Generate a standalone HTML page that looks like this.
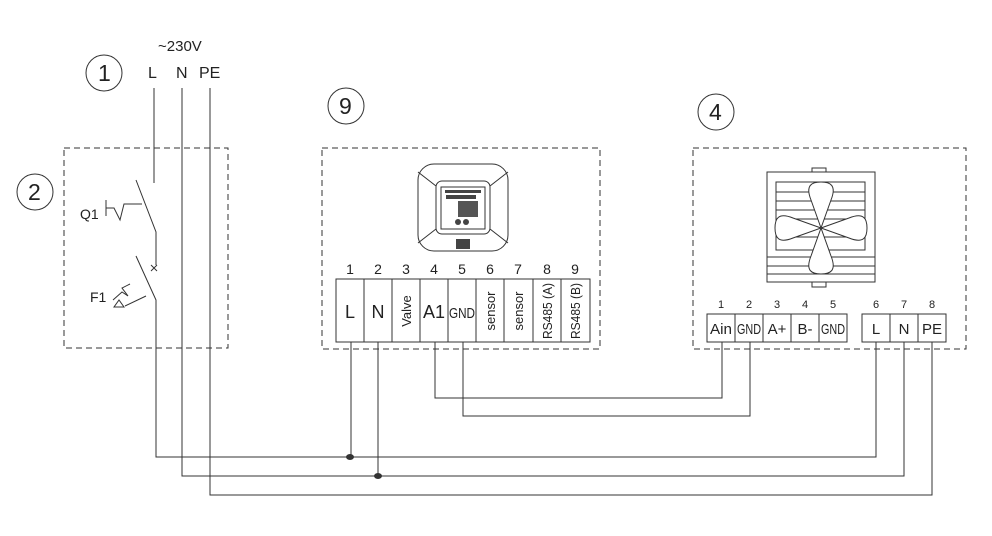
<!DOCTYPE html>
<html><head><meta charset="utf-8"><style>
html,body{margin:0;padding:0;background:#fff;}
svg{display:block;font-family:"Liberation Sans",sans-serif;}
</style></head><body>
<svg width="992" height="536" viewBox="0 0 992 536" xmlns="http://www.w3.org/2000/svg">
<g fill="none" stroke="#333" stroke-width="1">
<rect x="64" y="148" width="164" height="200" stroke-dasharray="6,4"/>
<rect x="322" y="148" width="278" height="201" stroke-dasharray="6,4"/>
<rect x="693" y="148" width="273" height="201" stroke-dasharray="6,4"/>
<circle cx="104" cy="73" r="18"/>
<circle cx="35" cy="192" r="18"/>
<circle cx="346" cy="106" r="18"/>
<circle cx="716" cy="112" r="18"/>
<path d="M154 88 V183"/>
<path d="M136 180 L156 232 V265"/>
<path d="M136 256 L156 300 V457 H876 V342"/>
<path d="M182 88 V476 H904 V342"/>
<path d="M210 88 V495 H932 V342"/>
<path d="M151 265 l6 6 M157 265 l-6 6"/>
<path d="M106 200 V216 M106 208 H114 L120 220 L124 204 H142"/>
<path d="M113 300 L122 292 L128 296 L122 288 L130 284 M125 306 L146 296 M114 307 L124 307 L119 300 Z"/>
<rect x="336" y="279" width="254" height="63"/>
<path d="M364 279 V342 M392 279 V342 M420 279 V342 M448 279 V342 M476 279 V342 M504 279 V342 M533 279 V342 M561 279 V342"/>
<path d="M351 342 V457 M378 342 V476"/>
<path d="M435 342 V398 H722 V342 M463 342 V416 H750 V342"/>
<rect x="707" y="314" width="140" height="28"/>
<path d="M735 314 V342 M763 314 V342 M791 314 V342 M819 314 V342"/>
<rect x="862" y="314" width="84" height="28"/>
<path d="M890 314 V342 M918 314 V342"/>
<rect x="767" y="172" width="108" height="110"/>
<rect x="776" y="182" width="89" height="68"/>
<path d="M776 192 H865 M776 201 H865 M776 210 H865 M776 219 H865 M776 228 H865 M776 237 H865 M767 257 H875 M767 266 H875 M767 274 H875"/>
<rect x="812" y="168" width="14" height="4"/>
<rect x="812" y="282" width="14" height="5"/>
<g fill="#fff">
<path d="M821 228 L811 200 C805 185 812 182 821 182 C830 182 837 185 831 200 Z"/>
<path d="M821 228 L811 256 C805 271 812 274 821 274 C830 274 837 271 831 256 Z"/>
<path d="M821 228 L793 218 C778 212 775 219 775 228 C775 237 778 244 793 238 Z"/>
<path d="M821 228 L849 218 C864 212 867 219 867 228 C867 237 864 244 849 238 Z"/>
</g>
<rect x="418" y="164" width="90" height="87" rx="16"/>
<rect x="436" y="181" width="54" height="53" rx="6"/>
<rect x="441" y="187" width="44" height="42"/>
<path d="M418 172 L436 186 M508 172 L490 186 M418 243 L436 229 M508 243 L490 229"/>
</g>
<g fill="#444">
<rect x="445" y="190" width="36" height="3"/>
<rect x="446" y="195" width="30" height="4"/>
<rect x="458" y="201" width="20" height="16" fill="#555"/>
<circle cx="458" cy="222" r="3"/><circle cx="466" cy="222" r="3"/>
<rect x="456" y="239" width="14" height="10"/>
</g>
<g fill="#333">
<ellipse cx="350" cy="457" rx="4" ry="3"/>
<ellipse cx="378" cy="476" rx="4" ry="3"/>
</g>
<g fill="#222" font-size="16">
<text x="158" y="51" font-size="15">~230V</text>
<text x="148" y="78">L</text>
<text x="176" y="78">N</text>
<text x="199" y="78">PE</text>
<text x="98" y="81" font-size="23">1</text>
<text x="28" y="200" font-size="23">2</text>
<text x="339" y="114" font-size="23">9</text>
<text x="709" y="120" font-size="23">4</text>
<text x="80" y="219" font-size="14">Q1</text>
<text x="90" y="302" font-size="14">F1</text>
</g>
<g fill="#222" font-size="14" text-anchor="middle">
<text x="350" y="274">1</text><text x="378" y="274">2</text><text x="406" y="274">3</text>
<text x="434" y="274">4</text><text x="462" y="274">5</text><text x="490" y="274">6</text>
<text x="518" y="274">7</text><text x="547" y="274">8</text><text x="575" y="274">9</text>
<text x="350" y="318" font-size="18">L</text>
<text x="378" y="318" font-size="18">N</text>
<text x="434" y="318" font-size="18">A1</text>
<text x="462" y="318" font-size="15" textLength="26" lengthAdjust="spacingAndGlyphs">GND</text>
<g font-size="13">
<text transform="translate(411,311) rotate(-90)">Valve</text>
<text transform="translate(495,311) rotate(-90)">sensor</text>
<text transform="translate(523,311) rotate(-90)">sensor</text>
<text transform="translate(552,311) rotate(-90)" textLength="56" lengthAdjust="spacingAndGlyphs">RS485 (A)</text>
<text transform="translate(580,311) rotate(-90)" textLength="56" lengthAdjust="spacingAndGlyphs">RS485 (B)</text>
</g>
<g font-size="11">
<text x="721" y="308">1</text><text x="749" y="308">2</text><text x="777" y="308">3</text>
<text x="805" y="308">4</text><text x="833" y="308">5</text><text x="876" y="308">6</text>
<text x="904" y="308">7</text><text x="932" y="308">8</text>
</g>
<g font-size="15">
<text x="721" y="334" textLength="22" lengthAdjust="spacingAndGlyphs">Ain</text>
<text x="749" y="334" textLength="24" lengthAdjust="spacingAndGlyphs">GND</text>
<text x="777" y="334">A+</text>
<text x="805" y="334">B-</text>
<text x="833" y="334" textLength="24" lengthAdjust="spacingAndGlyphs">GND</text>
<text x="876" y="334">L</text>
<text x="904" y="334">N</text>
<text x="932" y="334">PE</text>
</g>
</g>
</svg>
</body></html>
